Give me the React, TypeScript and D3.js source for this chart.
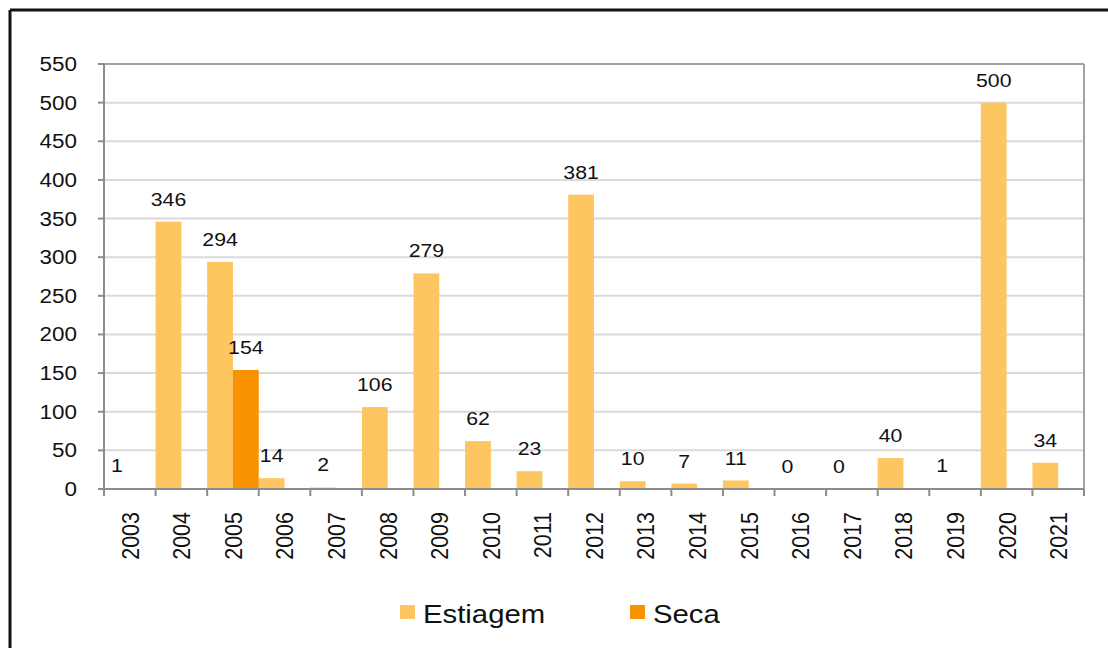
import * as d3 from "d3";

const years = [
  "2003", "2004", "2005", "2006", "2007", "2008", "2009", "2010", "2011", "2012",
  "2013", "2014", "2015", "2016", "2017", "2018", "2019", "2020", "2021",
];
const estiagem = [1, 346, 294, 14, 2, 106, 279, 62, 23, 381, 10, 7, 11, 0, 0, 40, 1, 500, 34];
const seca: (number | null)[] = [
  null, null, 154, null, null, null, null, null, null, null,
  null, null, null, null, null, null, null, null, null,
];
const yTicks = [0, 50, 100, 150, 200, 250, 300, 350, 400, 450, 500, 550];
const seriesNames = ["Estiagem", "Seca"];
const seriesColors = ["#FEC661", "#F99202"];

const W = 1108;
const H = 648;
const plot = { left: 104, right: 1084, top: 64, bottom: 489 };
const SX = 1.15; // the source picture is a bit stretched sideways
const FONT = "'Liberation Sans', Arial, sans-serif";
const AXIS = "#8c8c8c";
const GRID = "#dadada";

export default function App() {
  const x = d3.scaleBand<string>()
    .domain(years)
    .range([plot.left, plot.right])
    .paddingInner(0)
    .paddingOuter(0);

  const xSub = d3.scaleBand<string>()
    .domain(seriesNames)
    .range([0, x.bandwidth()])
    .padding(0);

  const y = d3.scaleLinear().domain([0, 550]).range([plot.bottom, plot.top]);

  const series = [estiagem, seca];

  return (
    <svg
      width={W}
      height={H}
      style={{ position: "absolute", left: 0, top: 0, background: "#fff" }}
      fontFamily={FONT}
    >
      <rect x={0} y={0} width={W} height={H} fill="#fff" />

      {/* outer frame */}
      <line x1={10} y1={10} x2={W + 5} y2={10} stroke="#111" strokeWidth={3} />
      <line x1={10} y1={10} x2={10} y2={H + 5} stroke="#111" strokeWidth={3} />

      {/* grid */}
      {yTicks.filter((t) => t > 0 && t < 550).map((t) => (
        <line key={`g${t}`} x1={plot.left} x2={plot.right} y1={y(t)} y2={y(t)}
          stroke={GRID} strokeWidth={2} />
      ))}

      {/* plot border top/right */}
      <line x1={plot.left} x2={plot.right} y1={y(550)} y2={y(550)} stroke="#a3a3a3" strokeWidth={2} />
      <line x1={plot.right} x2={plot.right} y1={plot.top} y2={plot.bottom} stroke="#a3a3a3" strokeWidth={2} />

      {/* bars */}
      {series.map((vals, si) =>
        vals.map((v, i) => {
          if (v == null) return null;
          const bx = (x(years[i]) ?? 0) + (xSub(seriesNames[si]) ?? 0);
          return (
            <rect key={`b${si}-${i}`} x={bx} y={y(v)} width={xSub.bandwidth()}
              height={y(0) - y(v)} fill={seriesColors[si]} />
          );
        })
      )}

      {/* axes */}
      <line x1={plot.left} x2={plot.left} y1={plot.top} y2={plot.bottom} stroke={AXIS} strokeWidth={2} />
      <line x1={plot.left} x2={plot.right} y1={plot.bottom} y2={plot.bottom} stroke={AXIS} strokeWidth={2} />
      {yTicks.map((t) => (
        <g key={`yt${t}`}>
          <line x1={plot.left - 6} x2={plot.left} y1={y(t)} y2={y(t)} stroke={AXIS} strokeWidth={2} />
          <text transform={`translate(77,${y(t)}) scale(${SX},1)`} textAnchor="end" dy="0.36em"
            fontSize={19.5} fill="#111">{t}</text>
        </g>
      ))}
      {years.concat(["end"]).map((yr, i) => {
        const tx = plot.left + i * x.step();
        return <line key={`xt${i}`} x1={tx} x2={tx} y1={plot.bottom} y2={plot.bottom + 7} stroke={AXIS} strokeWidth={2} />;
      })}
      {years.map((yr) => {
        const cx = (x(yr) ?? 0) + x.bandwidth() / 2;
        return (
          <text key={`xl${yr}`} transform={`translate(${cx},512) scale(${SX},1) rotate(-90)`}
            textAnchor="end" dy="0.36em" fontSize={21.5} fill="#111">{yr}</text>
        );
      })}

      {/* data labels */}
      {series.map((vals, si) =>
        vals.map((v, i) => {
          if (v == null) return null;
          const cx = (x(years[i]) ?? 0) + (xSub(seriesNames[si]) ?? 0) + xSub.bandwidth() / 2;
          return (
            <text key={`l${si}-${i}`} transform={`translate(${cx},${y(v) - 16}) scale(${SX},1)`}
              textAnchor="middle" fontSize={18.5} fill="#111">{v}</text>
          );
        })
      )}

      {/* legend */}
      {seriesNames.map((name, si) => {
        const lx = [400, 630][si];
        return (
          <g key={`lg${name}`}>
            <rect x={lx} y={605} width={15} height={14} fill={seriesColors[si]} />
            <text transform={`translate(${lx + 23},623) scale(${SX},1)`} fontSize={25.5} fill="#111">{name}</text>
          </g>
        );
      })}
    </svg>
  );
}
